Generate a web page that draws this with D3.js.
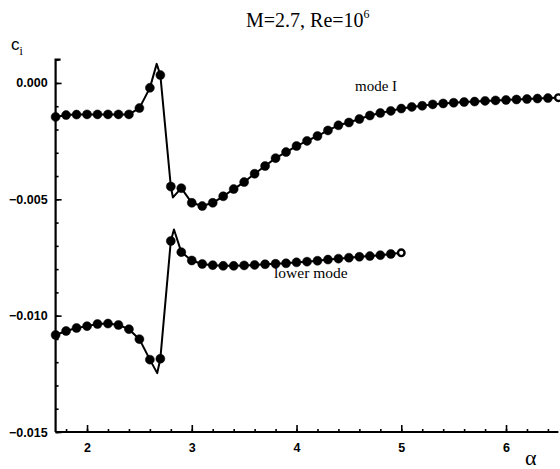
<html>
<head>
  <meta charset="utf-8">
  <script src="https://d3js.org/d3.v7.min.js"></script>
  <style>
    body { margin: 0; background: #fff; }
    .tick-label { font-family: "Liberation Sans", Arial, sans-serif; font-size: 12.5px; font-weight: bold; fill: #000; }
    .serif { font-family: "Liberation Serif", "Times New Roman", serif; fill: #000; }
  </style>
</head>
<body>
  <script type="text/javascript">
    // alpha grid for the dots (step 0.1)
    var alphaModeI = [1.7, 1.8, 1.9, 2.0, 2.1, 2.2, 2.3, 2.4, 2.5, 2.6, 2.7, 2.8, 2.9,
      3.0, 3.1, 3.2, 3.3, 3.4, 3.5, 3.6, 3.7, 3.8, 3.9, 4.0, 4.1, 4.2, 4.3, 4.4, 4.5,
      4.6, 4.7, 4.8, 4.9, 5.0, 5.1, 5.2, 5.3, 5.4, 5.5, 5.6, 5.7, 5.8, 5.9, 6.0, 6.1,
      6.2, 6.3, 6.4, 6.5];
    var ciModeI = [-0.00146, -0.00138, -0.00136, -0.00135, -0.00135, -0.00135, -0.00135,
      -0.00135, -0.00108, -0.00021, 0.00034, -0.00445, -0.00452, -0.00515, -0.00529,
      -0.00515, -0.00487, -0.00456, -0.00426, -0.00390, -0.00357, -0.00323, -0.00297,
      -0.00271, -0.00249, -0.00228, -0.00204, -0.00182, -0.00170, -0.00155, -0.00140,
      -0.00129, -0.00120, -0.00110, -0.00103, -0.00098, -0.00092, -0.00088, -0.00085,
      -0.00082, -0.00080, -0.00077, -0.00075, -0.00073, -0.00071, -0.00069, -0.00067,
      -0.00065, -0.00063];
    // extra curve vertices between the dots (overshoot of the solid line)
    var alphaModeIExtra = [2.665, 2.82];
    var ciModeIExtra = [0.00082, -0.00492];

    var alphaLower = [1.7, 1.8, 1.9, 2.0, 2.1, 2.2, 2.3, 2.4, 2.5, 2.6, 2.7, 2.8, 2.9,
      3.0, 3.1, 3.2, 3.3, 3.4, 3.5, 3.6, 3.7, 3.8, 3.9, 4.0, 4.1, 4.2, 4.3, 4.4, 4.5,
      4.6, 4.7, 4.8, 4.9, 5.0];
    var ciLower = [-0.01083, -0.01066, -0.01053, -0.01045, -0.01036, -0.01034, -0.01040,
      -0.01058, -0.01101, -0.01189, -0.01185, -0.00679, -0.00727, -0.00763, -0.00778,
      -0.00783, -0.00786, -0.00786, -0.00784, -0.00782, -0.00779, -0.00777, -0.00775,
      -0.00771, -0.00768, -0.00764, -0.00759, -0.00755, -0.00751, -0.00747, -0.00744,
      -0.00740, -0.00735, -0.00730];
    var alphaLowerExtra = [2.67, 2.83];
    var ciLowerExtra = [-0.01247, -0.00630];

    var xTickLabels = [2, 3, 4, 5, 6];
    var yTickLabels = [0.000, -0.005, -0.010, -0.015];

    var width = 560, height = 469;
    var x = d3.scaleLinear().domain([1.7, 6.5]).range([55.6, 558.4]);
    var y = d3.scaleLinear().domain([-0.015, 0.001]).range([432, 59.7]);

    var svg = d3.select("body").append("svg")
      .attr("width", width)
      .attr("height", height);

    function zipPts(a, c) {
      return a.map(function(d, i) { return {a: d, c: c[i]}; });
    }
    function linePts(a, c, ea, ec) {
      return zipPts(a, c).concat(zipPts(ea, ec))
        .sort(function(p, q) { return p.a - q.a; });
    }

    // axes
    var xAxis = d3.axisBottom(x)
      .tickValues(d3.range(1.8, 6.5, 0.2))
      .tickSize(-3).tickFormat("");
    var gx = svg.append("g").attr("transform", "translate(0,432)").call(xAxis);
    var gxMajor = svg.append("g").attr("transform", "translate(0,432)")
      .call(d3.axisBottom(x).tickValues(xTickLabels).tickSize(-7).tickPadding(11)
        .tickFormat(d3.format("d")));

    var yAxis = d3.axisLeft(y)
      .tickValues(d3.range(-15, 2).map(function(d) { return d / 1000; }))
      .tickSize(-3).tickFormat("");
    var gy = svg.append("g").attr("transform", "translate(55.6,0)").call(yAxis);
    var gyMajor = svg.append("g").attr("transform", "translate(55.6,0)")
      .call(d3.axisLeft(y).tickValues(yTickLabels).tickSize(-6).tickPadding(8)
        .tickFormat(d3.format(".3f")));

    svg.selectAll(".domain").attr("stroke", "#000").attr("stroke-width", 2.2);
    svg.selectAll(".tick line").attr("stroke", "#000").attr("stroke-width", 1.6);
    gxMajor.selectAll(".tick text").attr("class", "tick-label").attr("dy", "0.71em");
    gyMajor.selectAll(".tick text").attr("class", "tick-label");
    // minor axis: only keep domain from one copy
    gx.select(".domain").remove();
    gy.select(".domain").remove();
    gxMajor.select(".domain").attr("d", "M" + x.range()[0] + ",0H" + x.range()[1]);
    gyMajor.select(".domain").attr("d", "M5," + y(0.001) + "H0V" + y(-0.015));

    var line = d3.line()
      .x(function(d) { return x(d.a); })
      .y(function(d) { return y(d.c); });

    var series = [
      {dots: zipPts(alphaModeI, ciModeI), path: linePts(alphaModeI, ciModeI, alphaModeIExtra, ciModeIExtra)},
      {dots: zipPts(alphaLower, ciLower), path: linePts(alphaLower, ciLower, alphaLowerExtra, ciLowerExtra)}
    ];

    series.forEach(function(s) {
      svg.append("path")
        .datum(s.path)
        .attr("d", line)
        .attr("fill", "none")
        .attr("stroke", "#000")
        .attr("stroke-width", 2)
        .attr("stroke-linejoin", "round");

      svg.append("g").selectAll("circle")
        .data(s.dots)
        .enter().append("circle")
        .attr("cx", function(d) { return x(d.a); })
        .attr("cy", function(d) { return y(d.c); })
        .attr("r", function(d, i) { return i === s.dots.length - 1 ? 3.3 : 4.5; })
        .attr("fill", function(d, i) { return i === s.dots.length - 1 ? "#fff" : "#000"; })
        .attr("stroke", "#000")
        .attr("stroke-width", function(d, i) { return i === s.dots.length - 1 ? 2.4 : 0.5; });
    });

    // labels
    var title = svg.append("text").attr("class", "serif")
      .attr("x", 246).attr("y", 27)
      .style("font-size", "20px");
    title.append("tspan").text("M=2.7, Re=10");
    title.append("tspan").attr("dy", -9).style("font-size", "12px").text("6");

    svg.append("text").attr("class", "serif")
      .attr("x", 355).attr("y", 91).style("font-size", "15px").text("mode I");
    svg.append("text").attr("class", "serif")
      .attr("x", 274).attr("y", 278).style("font-size", "15.5px").text("lower mode");

    var ci = svg.append("text").attr("x", 11).attr("y", 50);
    ci.append("tspan").style("font-family", "Liberation Sans, Arial, sans-serif")
      .style("font-size", "17px").text("c");
    ci.append("tspan").attr("class", "serif").attr("dy", 5)
      .style("font-size", "12px").text("i");

    svg.append("text").attr("class", "serif")
      .attr("x", 525).attr("y", 465).style("font-size", "22px").text("α");
  </script>
</body>
</html>
